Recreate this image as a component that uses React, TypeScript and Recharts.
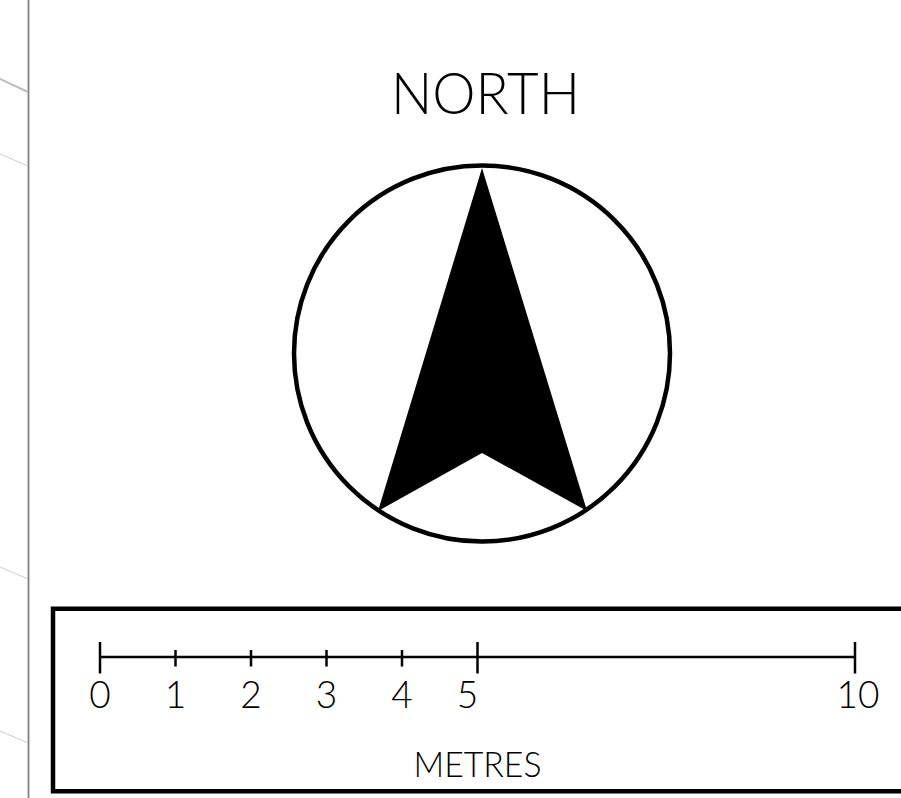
import React from 'react';
import { ComposedChart, Area, XAxis, YAxis, ReferenceDot, Label } from 'recharts';

// north arrow, in units of the compass radius (centre of the circle = 0,0)
const arrowX = [-0.553, 0, 0.559];
const arrowLow = [-0.838, -0.529, -0.838];
const arrowHigh = [-0.838, 0.987, -0.838];

// scale bar, in metres
const scaleTicks = [0, 1, 2, 3, 4, 5, 10];
const majorTicks = [0, 5, 10];
const scaleDomain = [0, 10];

const arrowData = arrowX.map((x, i) => ({ x, band: [arrowLow[i], arrowHigh[i]] }));
const scaleData = scaleTicks.map((m) => ({ m }));

const FONT = 'Lato, "Open Sans", sans-serif';

function ScaleTick({ x, y, payload }: any) {
    const v = payload.value;
    const major = majorTicks.includes(v);
    // the "5" sits a bit left of its tick in the original
    const shift = v === 5 ? -10 : v === 10 ? 3 : 0;
    return (
        <g>
            <line
                x1={x}
                x2={x}
                y1={y - (major ? 15 : 7)}
                y2={y + (major ? 16.5 : 9.5)}
                stroke="#000"
                strokeWidth={2.5}
            />
            <text
                x={x + shift}
                y={y + 51}
                textAnchor="middle"
                fontFamily={FONT}
                fontWeight={300}
                fontSize={37}
                fill="#000"
            >
                {v}
            </text>
        </g>
    );
}

function MetresLabel({ viewBox }: any) {
    if (!viewBox) return null;
    return (
        <text
            x={viewBox.x + viewBox.width / 2}
            y={viewBox.y + 120}
            textAnchor="middle"
            fontFamily={FONT}
            fontWeight={300}
            fontSize={36}
            textLength={128}
            lengthAdjust="spacingAndGlyphs"
            fill="#000"
        >
            METRES
        </text>
    );
}

export default function App() {
    return (
        <div style={{ position: 'absolute', left: 0, top: 0, width: 901, height: 798, background: '#fff', overflow: 'hidden' }}>
            <svg width={901} height={798} style={{ position: 'absolute', left: 0, top: 0 }}>
                <line x1={28.5} x2={28.5} y1={0} y2={798} stroke="#808080" strokeWidth={1.8} />
                <line x1={0} y1={79} x2={28} y2={92} stroke="#bdbdbd" strokeWidth={2} />
                <line x1={0} y1={154} x2={28} y2={166} stroke="#cccccc" strokeWidth={1} />
                <line x1={0} y1={567} x2={28} y2={579} stroke="#cccccc" strokeWidth={1} />
                <line x1={0} y1={731} x2={28} y2={743} stroke="#cccccc" strokeWidth={1} />
                <rect x={53} y={608.75} width={900} height={182.5} fill="none" stroke="#000" strokeWidth={4.5} />
                <text
                    x={485.5}
                    y={114}
                    textAnchor="middle"
                    fontFamily={FONT}
                    fontWeight={300}
                    fontSize={58}
                    textLength={189}
                    lengthAdjust="spacingAndGlyphs"
                    fill="#000"
                >
                    NORTH
                </text>
            </svg>

            <div style={{ position: 'absolute', left: 0, top: 0 }}>
                <ComposedChart
                    width={901}
                    height={600}
                    data={arrowData}
                    margin={{ top: 165.5, right: 231, bottom: 58.5, left: 294 }}
                >
                    <XAxis type="number" dataKey="x" domain={[-1, 1]} allowDataOverflow hide />
                    <YAxis type="number" domain={[-1, 1]} allowDataOverflow hide />
                    <Area
                        type="linear"
                        dataKey="band"
                        stroke="none"
                        fill="#000"
                        fillOpacity={1}
                        isAnimationActive={false}
                    />
                    <ReferenceDot x={0} y={0} r={188} fill="none" stroke="#000" strokeWidth={4.5} />
                </ComposedChart>
            </div>

            <div style={{ position: 'absolute', left: 0, top: 600 }}>
                <ComposedChart
                    width={901}
                    height={198}
                    data={scaleData}
                    margin={{ top: 0, right: 46, bottom: 0, left: 100 }}
                >
                    <XAxis
                        type="number"
                        dataKey="m"
                        domain={scaleDomain}
                        ticks={scaleTicks}
                        interval={0}
                        height={141}
                        tickSize={0}
                        tickMargin={0}
                        tickLine={false}
                        axisLine={{ stroke: '#000', strokeWidth: 2.5 }}
                        tick={<ScaleTick />}
                    >
                        <Label content={<MetresLabel />} />
                    </XAxis>
                </ComposedChart>
            </div>
        </div>
    );
}
